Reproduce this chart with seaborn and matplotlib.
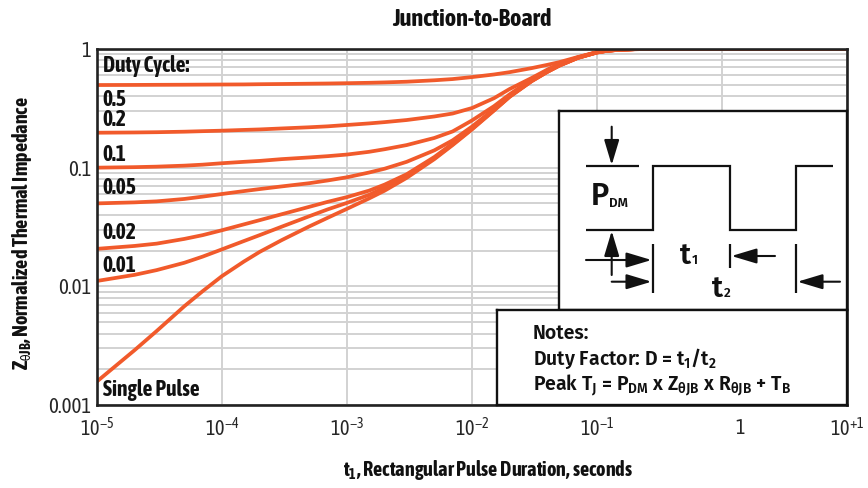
import matplotlib
matplotlib.use("Agg")
import matplotlib.pyplot as plt
from matplotlib import font_manager as fm
from matplotlib.ticker import FixedLocator, LogLocator, NullLocator
from matplotlib.transforms import ScaledTranslation
import pandas as pd
import seaborn as sns

# ---------------------------------------------------------------------------
# Normalized transient thermal impedance, junction-to-board
# ---------------------------------------------------------------------------
t1 = [1e-5, 2e-5, 3e-5, 5e-5, 7e-5, 1e-4, 1.5e-4, 2e-4, 3e-4, 5e-4, 7e-4,
      1e-3, 1.5e-3, 2e-3, 3e-3, 5e-3, 7e-3, 1e-2, 1.5e-2, 2e-2, 3e-2, 4e-2,
      5e-2, 7e-2, 1e-1, 0.12, 0.15, 0.2, 0.3, 1.0, 10.0]

z_d50 = [0.497, 0.498, 0.499, 0.500, 0.501, 0.502, 0.503, 0.505, 0.507, 0.510, 0.512,
         0.515, 0.519, 0.523, 0.530, 0.545, 0.558, 0.580, 0.610, 0.638, 0.690, 0.735,
         0.775, 0.855, 0.942, 0.968, 0.988, 0.998, 1.0, 1.0, 1.0]
z_d20 = [0.197, 0.198, 0.199, 0.201, 0.203, 0.205, 0.208, 0.210, 0.214, 0.219, 0.223,
         0.229, 0.236, 0.242, 0.252, 0.270, 0.286, 0.318, 0.385, 0.460, 0.570, 0.670,
         0.750, 0.850, 0.940, 0.968, 0.987, 0.997, 1.0, 1.0, 1.0]
z_d10 = [0.100, 0.101, 0.102, 0.104, 0.106, 0.109, 0.112, 0.114, 0.118, 0.122, 0.125,
         0.129, 0.136, 0.143, 0.155, 0.178, 0.202, 0.250, 0.330, 0.415, 0.555, 0.655,
         0.735, 0.846, 0.938, 0.967, 0.986, 0.997, 1.0, 1.0, 1.0]
z_d05 = [0.050, 0.051, 0.052, 0.0545, 0.057, 0.060, 0.0635, 0.066, 0.0695, 0.074, 0.078,
         0.083, 0.091, 0.098, 0.112, 0.140, 0.170, 0.222, 0.312, 0.402, 0.542, 0.646,
         0.729, 0.844, 0.937, 0.966, 0.986, 0.997, 1.0, 1.0, 1.0]
z_d02 = [0.0207, 0.0219, 0.0229, 0.0251, 0.0270, 0.0297, 0.0333, 0.0361, 0.0405, 0.0468, 0.0515,
         0.0565, 0.064, 0.072, 0.088, 0.123, 0.160, 0.215, 0.307, 0.399, 0.539, 0.643,
         0.727, 0.842, 0.936, 0.966, 0.985, 0.997, 1.0, 1.0, 1.0]
z_d01 = [0.0111, 0.0125, 0.0137, 0.0158, 0.0178, 0.0205, 0.0241, 0.0270, 0.0318, 0.039, 0.0445,
         0.0505, 0.059, 0.068, 0.085, 0.120, 0.157, 0.212, 0.305, 0.397, 0.537, 0.642,
         0.725, 0.841, 0.935, 0.965, 0.985, 0.997, 1.0, 1.0, 1.0]
z_single = [0.00158, 0.0029, 0.0042, 0.0068, 0.0091, 0.0122, 0.0162, 0.0195, 0.0245, 0.032, 0.0378,
            0.045, 0.055, 0.064, 0.082, 0.118, 0.155, 0.210, 0.303, 0.395, 0.535, 0.640,
            0.724, 0.840, 0.935, 0.965, 0.985, 0.997, 1.0, 1.0, 1.0]

duty_names = ["0.5", "0.2", "0.1", "0.05", "0.02", "0.01", "Single Pulse"]
duty_curves = [z_d50, z_d20, z_d10, z_d05, z_d02, z_d01, z_single]

x_ticks = [1e-5, 1e-4, 1e-3, 1e-2, 1e-1, 1.0, 10.0]
x_tick_labels = ["10$^{-5}$", "10$^{-4}$", "10$^{-3}$", "10$^{-2}$",
                 "10$^{-1}$", "1", "10$^{+1}$"]
y_ticks = [1e-3, 1e-2, 1e-1, 1.0]
y_tick_labels = ["0.001", "0.01", "0.1", "1"]

CURVE = "#F15A2B"
GRID = "#d2d2d2"
INK = "#111111"


def has_font(name):
    try:
        fm.findfont(fm.FontProperties(family=name), fallback_to_default=False)
        return True
    except Exception:
        return False


def first_font(names):
    for n in names:
        if has_font(n):
            return n
    return "DejaVu Sans"


def weighted_family(bases, weights):
    """Family name of an upright, normal-width face with one of the weights."""
    for w in weights:
        for b in bases:
            for f in fm.fontManager.ttflist:
                if (f.name.startswith(b) and f.weight == w and f.style == "normal"
                        and f.stretch == "normal"):
                    return f.name, w
    return "DejaVu Sans", "bold"


COND = first_font(["Asap Condensed", "Barlow Semi Condensed", "Archivo Narrow"])
SEMI, SEMI_W = weighted_family(
    ["Myriad Pro", "Source Sans Pro", "Source Sans 3", "Fira Sans", "Open Sans",
     "Noto Sans", "PT Sans", "Lato"], [600, 700])
narrowish = any(k in SEMI for k in ("Myriad", "Source", "PT Sans", "Lato"))
NOTE_SIZE = 15.5 if narrowish else 14.0

sns.set_style("white")
plt.rcParams["font.family"] = [COND, "DejaVu Sans"]
plt.rcParams["mathtext.default"] = "regular"

long = pd.concat(
    [pd.DataFrame({"t": t1, "z": z, "duty": name})
     for name, z in zip(duty_names, duty_curves)],
    ignore_index=True,
)

W, H = 868, 488
fig = plt.figure(figsize=(W / 100, H / 100), dpi=100)


def px_rect(x0, y0, x1, y1):
    return [x0 / W, 1 - y1 / H, (x1 - x0) / W, (y1 - y0) / H]


ax = fig.add_axes(px_rect(97, 49, 847, 405))
sns.lineplot(data=long, x="t", y="z", hue="duty", palette=[CURVE] * len(duty_names),
             estimator=None, sort=False, legend=False, linewidth=2.7, ax=ax)
ax.set_xscale("log")
ax.set_yscale("log")
ax.set_xlim(1e-5, 10)
ax.set_ylim(1e-3, 1)

ax.xaxis.set_major_locator(FixedLocator(x_ticks))
ax.xaxis.set_minor_locator(NullLocator())
ax.set_xticklabels(x_tick_labels)
ax.yaxis.set_major_locator(FixedLocator(y_ticks))
ax.yaxis.set_minor_locator(LogLocator(base=10, subs=range(2, 10)))
ax.set_yticklabels(y_tick_labels)
ax.yaxis.set_minor_formatter(plt.NullFormatter())
ax.tick_params(which="both", length=0)
ax.tick_params(axis="x", pad=9, labelsize=14.5)
ax.tick_params(axis="y", pad=4, labelsize=15)
ax.set_xlabel("")
ax.set_ylabel("")

ax.grid(True, which="major", axis="both", color=GRID, lw=1.4)
ax.grid(True, which="minor", axis="y", color=GRID, lw=1.4)
ax.set_axisbelow(True)
for sp in ax.spines.values():
    sp.set_visible(True)
    sp.set_color("#222222")
    sp.set_linewidth(1.9)

# the "1" label sits a little right of its grid line
one = ax.get_xticklabels()[5]
one.set_transform(one.get_transform() + ScaledTranslation(18 / 100, 0, fig.dpi_scale_trans))

# curve labels
label_font = dict(fontsize=15.5, fontweight="bold", color=INK, ha="left", va="baseline")
for txt, yfrac in [("Duty Cycle:", 0.9345), ("0.5", 0.840), ("0.2", 0.784),
                   ("0.1", 0.685), ("0.05", 0.592), ("0.02", 0.466),
                   ("0.01", 0.374), ("Single Pulse", 0.025)]:
    ax.text(0.0076, yfrac, txt, transform=ax.transAxes, **label_font)

# titles
fig.text(472 / W, 1 - 26.5 / H, "Junction-to-Board", ha="center", va="baseline",
         fontsize=17.5, fontweight="bold", color=INK)
fig.text(488 / W, 1 - 476 / H, "t$_1$, Rectangular Pulse Duration, seconds",
         ha="center", va="baseline", fontsize=14.5, fontweight="bold", color=INK)
fig.text(22 / W, 1 - 233 / H, "Z$_{θJB}$, Normalized Thermal Impedance",
         ha="center", va="center", rotation=90, fontsize=14.5, fontweight="bold",
         color=INK)


def boxed_axes(x0, y0, x1, y1):
    a = fig.add_axes(px_rect(x0, y0, x1, y1))
    a.set_xlim(x0, x1)
    a.set_ylim(y1, y0)
    a.set_xticks([])
    a.set_yticks([])
    a.set_facecolor("white")
    for sp in a.spines.values():
        sp.set_visible(True)
        sp.set_color(INK)
        sp.set_linewidth(1.7)
    return a


# pulse waveform diagram
wav = boxed_axes(559, 111, 847, 310)
lk = dict(color=INK, lw=1.6, solid_capstyle="butt")
wav.plot([586, 652.7, 652.7, 730, 730, 796, 796, 833],
         [230, 230, 166, 166, 230, 230, 166, 166], solid_joinstyle="miter", **lk)
wav.plot([586, 639], [166, 166], **lk)
wav.plot([652.7, 652.7], [244, 293], **lk)
wav.plot([730, 730], [244, 268], **lk)
wav.plot([796, 796], [244, 293], **lk)

arrow = dict(arrowstyle="-|>,head_length=1.1,head_width=0.33", color=INK, lw=1.5,
             shrinkA=0, shrinkB=0, mutation_scale=14)
for tail, tip in [((611.7, 126.7), (611.7, 165)),
                  ((611.7, 275), (611.7, 231)),
                  ((586, 260), (651.5, 260)),
                  ((611.7, 281.7), (651.5, 281.7)),
                  ((775, 256), (731.5, 256)),
                  ((840, 281.7), (797.5, 281.7))]:
    wav.annotate("", xy=tip, xytext=tail, arrowprops=arrow)

big = dict(family=[SEMI, "DejaVu Sans"], fontweight=SEMI_W, color=INK, va="baseline")
wav.text(591, 205, "P", fontsize=22, ha="left", **big)
wav.text(609.5, 207, "DM", fontsize=9.5, ha="left", **big)
wav.text(680, 264, "t", fontsize=21, ha="left", **big)
wav.text(691.5, 264, "1", fontsize=9.5, ha="left", **big)
wav.text(712, 297, "t", fontsize=21, ha="left", **big)
wav.text(723.5, 297, "2", fontsize=9.5, ha="left", **big)

# notes
notes = boxed_axes(497, 310, 847, 405)
nf = dict(family=[SEMI, "DejaVu Sans"], fontweight=SEMI_W, fontsize=NOTE_SIZE,
          color=INK, ha="left", va="baseline")
notes.text(533, 339, "Notes:", **nf)
notes.text(533, 365, "Duty Factor: D = t$_1$/t$_2$", **nf)
notes.text(533, 390, "Peak T$_J$ = P$_{DM}$ x Z$_{θJB}$ x R$_{θJB}$ + T$_B$", **nf)

fig.savefig("out.png", dpi=100)
